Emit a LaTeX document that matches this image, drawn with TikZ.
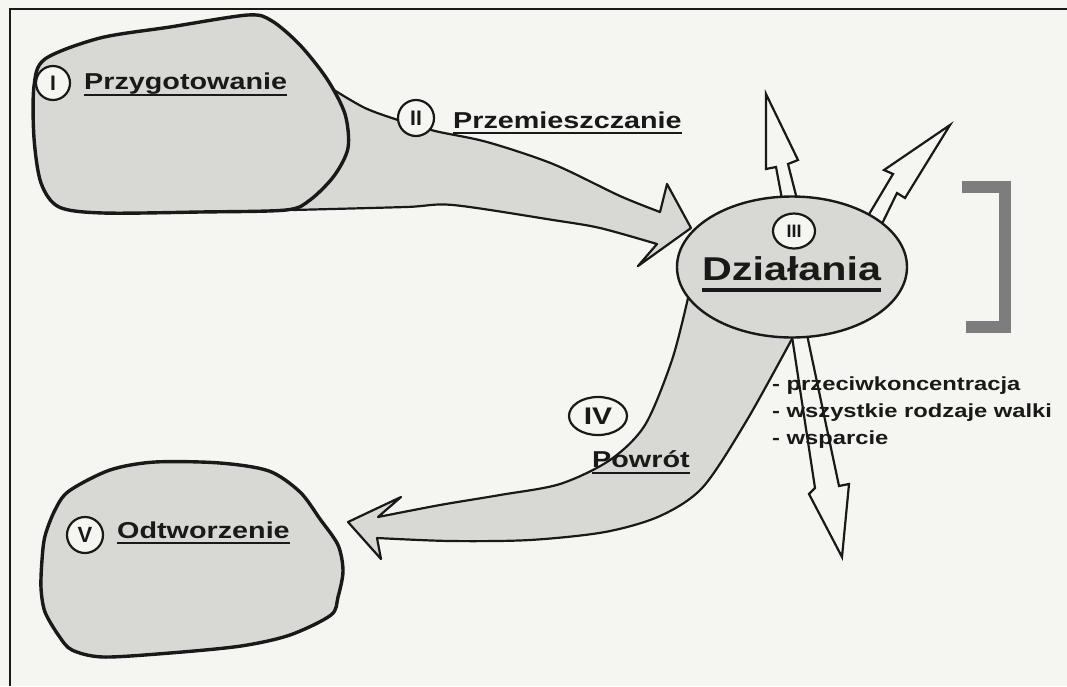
\documentclass[tikz,border=0pt]{standalone}
\usepackage{fontspec}
\usetikzlibrary{shapes.geometric}
\newfontfamily\lblfont[FakeStretch=1.25]{Liberation Sans}
\newfontfamily\numfont{Liberation Sans}
\definecolor{pagebg}{RGB}{245,245,241}
\definecolor{blobgray}{RGB}{216,216,212}
\definecolor{inkblack}{RGB}{25,25,25}
\definecolor{markgray}{RGB}{125,125,125}

\begin{document}
\begin{tikzpicture}[x=1pt,y=-1pt,
  blob/.style={draw=inkblack,fill=blobgray,line width=3.4pt,line join=round},
  fatarrow/.style={draw=inkblack,fill=blobgray,line width=2.2pt,line join=round},
  thinarrow/.style={draw=inkblack,fill=pagebg,line width=2.2pt,line join=miter},
  numcirc/.style={ellipse,draw=inkblack,fill=pagebg,line width=2.2pt,inner sep=0pt,
    text=inkblack,font=\numfont\bfseries\fontsize{21}{21}\selectfont},
  stage/.style={inner sep=0pt,anchor=base west,text=inkblack,
    font=\lblfont\bfseries\fontsize{23}{27}\selectfont},
  uline/.style={draw=inkblack,line width=2.4pt},
  item/.style={inner sep=0pt,anchor=base west,text=inkblack,
    font=\lblfont\bfseries\fontsize{19}{22}\selectfont}]
  % Page and frame
  \fill[pagebg] (0,0) rectangle (1067,686);
  \useasboundingbox (0,0) rectangle (1067,686);
  \draw[inkblack,line width=1.6pt] (10,686) -- (10,9) -- (1067,9);
  \draw[markgray,line width=12pt] (962,187) -- (1005,187) -- (1005,327) -- (966,327);
  % II: movement arrow
  \filldraw[fatarrow] plot[smooth] coordinates {(334,90) (365,108) (398,120) (435,131)
      (487,142) (553,164) (620,196) (660,212)}
    -- (667,184) -- (691,228) -- (638,266) -- (657,244)
    -- plot[smooth] coordinates {(657,244) (600,228) (553,220) (453,205) (406,207) (293,210)}
    -- (300,150) -- cycle;
  % I: preparation
  \filldraw[blob] plot[smooth cycle] coordinates {(45,59) (100,38) (170,27) (248,15)
    (272,21) (300,45) (327,79) (345,114) (348,148) (334,176) (310,200) (286,210)
    (200,212) (103,213) (59,207) (41,183) (34,138) (34,86)};
  % IV: return arrow
  \filldraw[fatarrow] plot[smooth] coordinates {(688,298) (672,360) (645,425) (610,460)
      (560,484) (500,495) (440,505) (378,517)}
    -- (401,497) -- (348,522) -- (381,559) -- (377,538)
    -- plot[smooth] coordinates {(377,538) (450,541) (530,540) (605,532) (660,516)
      (703,487) (747,420) (793,337)}
    -- (740,290) -- cycle;
  % V: restoration
  \filldraw[blob] plot[smooth cycle] coordinates {(69,491) (110,470) (155,462) (220,463)
    (269,471) (300,492) (320,519) (338,545) (343,571) (338,597) (331,615) (290,635)
    (241,646) (170,653) (103,657) (72,650) (59,636) (45,612) (41,588) (42,560)
    (45,536) (55,510)};
  % Arrows out of III
  \filldraw[thinarrow] (785,215) -- (776,167) -- (766,169) -- (766,94) -- (798,160)
    -- (788,164) -- (801,215) -- cycle;
  \filldraw[thinarrow] (862,226) -- (893,174) -- (884,170) -- (950,125) -- (905,198)
    -- (897,193) -- (878,232) -- cycle;
  \filldraw[thinarrow] (791,330) -- (815,488) -- (809,494) -- (842,557) -- (849,484)
    -- (839,486) -- (806,330) -- cycle;
  % III: operations
  \node[ellipse,draw=inkblack,fill=blobgray,line width=2.4pt,
    minimum width=230pt,minimum height=141pt] (dzialania) at (792,267) {};
  % Stage numbers
  \node[numcirc,minimum width=34pt,minimum height=34pt] (nI) at (53,83) {I};
  \node[numcirc,minimum width=36pt,minimum height=36pt] (nII) at (416,118) {II};
  \node[numcirc,minimum width=42pt,minimum height=35pt,
    font=\numfont\bfseries\fontsize{18}{18}\selectfont] (nIII) at (794,231) {III};
  \node[numcirc,minimum width=58pt,minimum height=38pt,
    font=\lblfont\bfseries\fontsize{24}{24}\selectfont] (nIV) at (598,416) {IV};
  \node[numcirc,minimum width=36pt,minimum height=36pt,
    font=\numfont\bfseries\fontsize{22}{22}\selectfont] (nV) at (85,535) {V};
  % Stage names
  \node[stage] (przyg) at (84,89) {Przygotowanie};
  \node[stage] (przem) at (453,128) {Przemieszczanie};
  \node[stage,font=\lblfont\bfseries\fontsize{33}{36}\selectfont] (dzial) at (702,280) {Działania};
  \node[stage] (powrot) at (592,467) {Powrót};
  \node[stage] (odtw) at (117,538) {Odtworzenie};
  \draw[uline] ([yshift=-6pt]przyg.base west) -- ([yshift=-6pt]przyg.base east);
  \draw[uline] ([yshift=-5pt]przem.base west) -- ([yshift=-5pt]przem.base east);
  \draw[uline,line width=3.6pt] ([yshift=-10pt]dzial.base west) -- ([yshift=-10pt]dzial.base east);
  \draw[uline] ([yshift=-6pt]powrot.base west) -- ([yshift=-6pt]powrot.base east);
  \draw[uline] ([yshift=-5pt]odtw.base west) -- ([yshift=-5pt]odtw.base east);
  % Kinds of action
  \node[item] (it1) at (772,390) {- przeciwkoncentracja};
  \node[item] (it2) at ([yshift=-27pt]it1.base west) {- wszystkie rodzaje walki};
  \node[item] (it3) at ([yshift=-27pt]it2.base west) {- wsparcie};
\end{tikzpicture}
\end{document}
